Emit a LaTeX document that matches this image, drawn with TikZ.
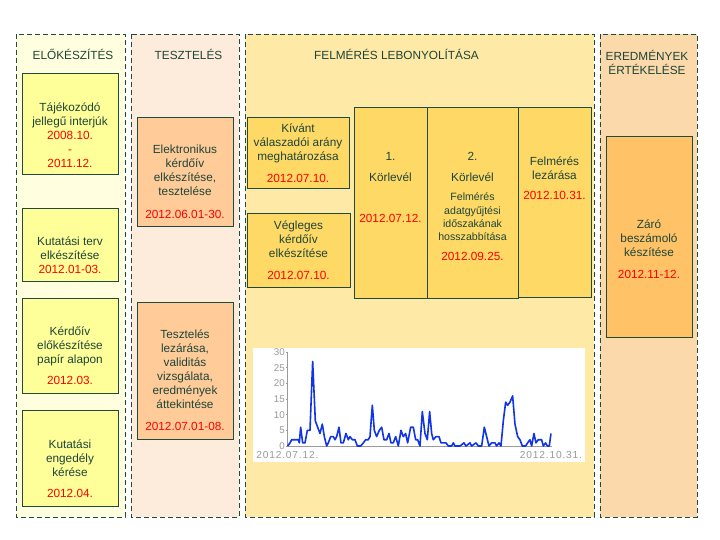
\documentclass[tikz,border=0pt]{standalone}
\usepackage{fontspec}
\setmainfont{Liberation Sans}
\usetikzlibrary{positioning}
\definecolor{cLine}{HTML}{1F4A3C}
\definecolor{cText}{HTML}{1E4438}
\definecolor{cDate}{HTML}{FF0000}
\definecolor{cColA}{HTML}{FFFFE0}
\definecolor{cColB}{HTML}{FDEBDC}
\definecolor{cColC}{HTML}{FFE9A6}
\definecolor{cColD}{HTML}{FCD9AA}
\definecolor{cBoxA}{HTML}{FFFF99}
\definecolor{cBoxB}{HTML}{FFCC99}
\definecolor{cBoxC}{HTML}{FFD966}
\definecolor{cBoxD}{HTML}{FFC266}
\definecolor{cPlot}{HTML}{1034E6}
\definecolor{cAxis}{HTML}{9A9A9A}
\newcommand{\dt}[1]{\textcolor{cDate}{#1}}
\tikzset{
  phase/.style={draw=cLine,dash pattern=on 5pt off 3pt,line width=.8pt},
  task/.style={draw=cLine,line width=.9pt,inner sep=0pt},
  txt/.style={text=cText,align=center,inner sep=0pt,
              font=\fontsize{11.8}{14}\selectfont},
  small/.style={txt,font=\fontsize{10.6}{13.3}\selectfont},
  tick/.style={text=cAxis,inner sep=1pt,font=\fontsize{9.8}{10}\selectfont},
  axdate/.style={tick,inner sep=0pt,
                 font=\fontsize{10.2}{10}\selectfont\addfontfeature{LetterSpace=8}},
}

\begin{document}
\begin{tikzpicture}[x=1pt,y=-1pt]
  \useasboundingbox (0,0) rectangle (720,540);
  % phases (dashed columns)
  \draw[phase,fill=cColA] (16,34) rectangle (125,517);
  \draw[phase,fill=cColB] (131,34) rectangle (239,517);
  \draw[phase,fill=cColC] (245,34) rectangle (594,517);
  \draw[phase,fill=cColD] (600,34) rectangle (697,517);
  \node[txt] (tElo)   at (73,54)    {ELŐKÉSZÍTÉS};
  \node[txt] (tTeszt) at (188.5,54) {TESZTELÉS};
  \node[txt] (tFelm)  at (396.5,54) {FELMÉRÉS LEBONYOLÍTÁSA};
  \node[txt] (tEred)  at (647,62.5) {EREDMÉNYEK\\ÉRTÉKELÉSE};

  % elokeszites
  \node[task,fill=cBoxA,minimum width=96pt,minimum height=101pt] (bTajek) at (70,123.5) {};
  \node[txt] (xTajek) at (70,135) {Tájékozódó\\jellegű interjúk\\\dt{2008.10.}\\\dt{-}\\\dt{2011.12.}};
  \node[task,fill=cBoxA,minimum width=96pt,minimum height=73pt] (bTerv) at (70,244.5) {};
  \node[txt] (xTerv) at (70,255) {Kutatási terv\\elkészítése\\\dt{2012.01-03.}};
  \node[task,fill=cBoxA,minimum width=96pt,minimum height=95pt] (bPapir) at (70,345.5) {};
  \node[txt] (xPapir) at (70,356) {Kérdőív\\előkészítése\\papír alapon\\[7pt]\dt{2012.03.}};
  \node[task,fill=cBoxA,minimum width=96pt,minimum height=96pt] (bEngedely) at (70,458) {};
  \node[txt] (xEngedely) at (70,468.5) {Kutatási\\engedély\\kérése\\[7pt]\dt{2012.04.}};

  % teszteles
  \node[task,fill=cBoxB,minimum width=96pt,minimum height=109pt] (bElektr) at (185,171.5) {};
  \node[txt] (xElektr) at (185,181.5) {Elektronikus\\kérdőív\\elkészítése,\\tesztelése\\[9pt]\dt{2012.06.01-30.}};
  \node[task,fill=cBoxB,minimum width=96pt,minimum height=137pt] (bZaras) at (185,370.5) {};
  \node[txt] (xZaras) at (185,380.5) {Tesztelés\\lezárása,\\validitás\\vizsgálata,\\eredmények\\áttekintése\\[8pt]\dt{2012.07.01-08.}};

  % felmeres lebonyolitasa
  \node[task,fill=cBoxC,minimum width=102pt,minimum height=71pt] (bKivant) at (298,152.5) {};
  \node[txt] (xKivant) at (298,153) {Kívánt\\válaszadói arány\\meghatározása\\[8pt]\dt{2012.07.10.}};
  \node[task,fill=cBoxC,minimum width=103pt,minimum height=74pt] (bVegl) at (298.5,250) {};
  \node[txt] (xVegl) at (298.5,250) {Végleges\\kérdőív\\elkészítése\\[8pt]\dt{2012.07.10.}};
  \node[task,fill=cBoxC,minimum width=73pt,minimum height=191pt] (bKor1) at (390.5,202.5) {};
  \node[txt] (xKor1) at (390.5,187) {1.\\[7pt]Körlevél\\[27pt]\dt{2012.07.12.}};
  \node[task,fill=cBoxC,minimum width=91pt,minimum height=191pt] (bKor2) at (472.5,202.5) {};
  \node[txt] (xKor2) at (472.5,166.5) {2.\\[7pt]Körlevél};
  \node[small] (xHossz) at (472.5,227) {Felmérés\\adatgyűjtési\\időszakának\\hosszabbítása\\[7pt]\dt{\fontsize{11.8}{14}\selectfont 2012.09.25.}};
  \node[task,fill=cBoxC,minimum width=73pt,minimum height=190pt] (bLezar) at (554.5,202) {};
  \node[txt] (xLezar) at (554.5,178.5) {Felmérés\\lezárása\\[6pt]\dt{2012.10.31.}};

  % eredmenyek ertekelese
  \node[task,fill=cBoxD,minimum width=86pt,minimum height=201pt] (bZaro) at (649,236.5) {};
  \node[txt] (xZaro) at (649,249) {Záró\\beszámoló\\készítése\\[8pt]\dt{2012.11-12.}};

  % daily responses chart
  \fill[white] (253,348) rectangle (585,462);
  \begin{scope}[shift={(240,446)},x=.3333pt,y=3.133pt]
    \draw[cAxis] (143,0) -- (143,30);
    \draw[cAxis] (143,0) -- (935,0);
    \foreach \v in {0,5,...,30}{
      \draw[cAxis] (138,\v) -- (143,\v);
      \node[tick,anchor=east] (k\v) at (138,\v) {\v};}
    \node[axdate] (dStart) at (142,-2.9) {2012.07.12.};
    \node[axdate] (dEnd) at (933,-2.9) {2012.10.31.};
    \draw[cPlot,line width=1.6pt,line join=round] plot coordinates {
      (143,0) (150,1) (155,2) (170,2) (175,2) (178,1) (182,6) (188,1) (195,1)
      (202,5) (210,5) (218,27) (226,8) (233,6) (240,4) (247,7) (253,3) (260,0)
      (265,1) (272,3) (280,3) (285,2) (290,3) (297,6) (303,1) (310,1) (318,4)
      (325,2) (330,3) (337,2) (345,2) (352,0) (362,0) (370,1) (377,2) (385,2)
      (390,3) (397,13) (403,5) (410,3) (418,5) (425,6) (432,2) (440,2) (447,4)
      (453,1) (460,1) (467,3) (475,0) (483,5) (490,3) (497,4) (503,1) (512,6)
      (520,6) (527,2) (533,2) (540,0) (547,11) (555,4) (562,2) (569,11) (575,4)
      (580,2) (588,3) (597,3) (603,1) (610,1) (618,1) (625,0) (635,0) (640,1)
      (645,0) (660,0) (672,1) (678,0) (690,1) (695,0) (708,1) (715,0) (725,0)
      (733,6) (740,3) (747,0) (755,1) (765,1) (770,0) (777,1) (783,0) (790,8)
      (797,14) (803,13) (810,14) (818,16) (825,7) (833,3) (840,2) (847,0)
      (857,0) (863,1) (870,2) (875,0) (882,4) (888,1) (895,2) (905,2) (910,0)
      (917,1) (922,0) (928,0) (933,4)};
  \end{scope}
\end{tikzpicture}
\end{document}
